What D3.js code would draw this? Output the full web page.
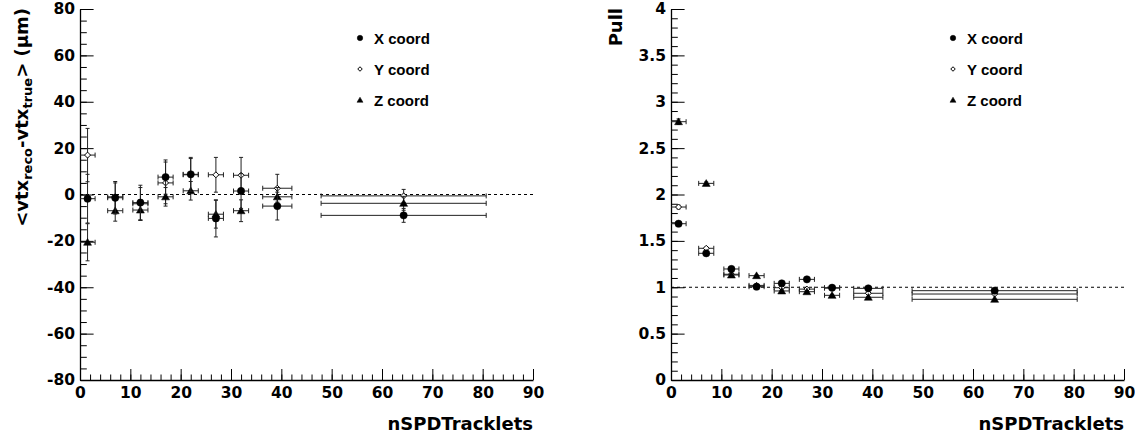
<!DOCTYPE html>
<html>
<head>
<meta charset="utf-8">
<script src="https://cdn.jsdelivr.net/npm/d3@7"></script>
<style>
body { margin: 0; background: #fff; }
</style>
</head>
<body>
<svg id="canvas" width="1135" height="434"></svg>
<script>
"use strict";

// bins in nSPDTracklets
var binCenters = [1.5, 7, 12, 17, 22, 27, 32, 39.2, 64.3];
var binHalfWidths = [1.5, 1.5, 1.5, 1.5, 1.5, 1.5, 1.5, 2.9, 16.4];

// left pad: <vtx_reco - vtx_true> in um
var biasX = [-1.8, -1.4, -3.5, 7.5, 8.7, -10.3, 1.5, -5, -9];
var biasXErr = [10.5, 7, 7.5, 7.4, 7.3, 8, 7.5, 6, 3];
var biasY = [17, -1, -4, 5, 8.5, 8.5, 8.3, 2.7, -0.6];
var biasYErr = [11.5, 6, 7, 9, 7, 7.5, 7.7, 6, 2.8];
var biasZ = [-20.6, -7, -6.7, -1, 1.6, -8.5, -7, -1, -3.8];
var biasZErr = [8, 4.5, 4.5, 4, 4, 6, 4.7, 4, 3];

// right pad: pull
var pullX = [1.685, 1.366, 1.197, 1.006, 1.042, 1.085, 0.995, 0.988, 0.963];
var pullXErr = [0.02, 0.012, 0.01, 0.008, 0.008, 0.008, 0.006, 0.006, 0.005];
var pullY = [1.865, 1.42, 1.14, 1.02, 0.995, 0.98, 0.99, 0.935, 0.927];
var pullYErr = [0.02, 0.012, 0.01, 0.008, 0.008, 0.008, 0.006, 0.006, 0.005];
var pullZ = [2.785, 2.12, 1.132, 1.125, 0.96, 0.952, 0.913, 0.892, 0.87];
var pullZErr = [0.03, 0.015, 0.01, 0.008, 0.008, 0.008, 0.006, 0.006, 0.005];

var legendLabels = ["X coord", "Y coord", "Z coord"];
var markerKinds = ["circle", "diamond", "triangle"];

var svg = d3.select("#canvas");
var labelFont = "'DejaVu Sans', sans-serif";
var legendFont = "'Liberation Sans', Arial, sans-serif";

function markerPath(kind, big) {
    var s = big ? 1 : 0.75;
    if (kind == "circle") return d3.symbol().type(d3.symbolCircle).size(42 * s * s)();
    if (kind == "diamond") {
        var r = 3 * s;
        return "M0," + (-r) + "L" + r + ",0L0," + r + "L" + (-r) + ",0Z";
    }
    var h = 3.8 * s;
    return "M0," + (-h) + "L" + (h * 1.05) + "," + (h * 0.8) + "L" + (-h * 1.05) + "," + (h * 0.8) + "Z";
}

function drawPanel(opts) {
    var g = svg.append("g");
    var x = d3.scaleLinear().domain([0, 90]).range([opts.left, opts.left + 453]);
    var y = d3.scaleLinear().domain(opts.yDomain).range([380, 9]);

    // minor ticks
    g.append("g").attr("transform", "translate(0,380)")
        .call(d3.axisBottom(x).tickValues(d3.range(0, 91, 2)).tickSize(-5.5).tickFormat(""))
        .call(function(a) { a.select(".domain").remove(); });
    g.append("g").attr("transform", "translate(" + opts.left + ",0)")
        .call(d3.axisLeft(y).tickValues(opts.yMinor).tickSize(-6.8).tickFormat(""))
        .call(function(a) { a.select(".domain").remove(); });

    // major axes
    var xAxis = g.append("g").attr("transform", "translate(0,380)")
        .call(d3.axisBottom(x).tickValues(d3.range(0, 91, 10)).tickSize(-11).tickSizeOuter(0).tickPadding(7));
    var yAxis = g.append("g").attr("transform", "translate(" + opts.left + ",0)")
        .call(d3.axisLeft(y).tickValues(opts.yMajor).tickSize(-13.6).tickSizeOuter(0).tickPadding(5)
            .tickFormat(opts.yFormat));
    [xAxis, yAxis].forEach(function(a) {
        a.selectAll("text").attr("font-family", labelFont).attr("font-weight", "bold")
            .attr("font-size", "15.5px").attr("fill", "#000");
        a.selectAll("line, path").attr("stroke", "#000");
        a.select(".domain").attr("stroke-width", 1.3);
    });

    // reference line
    g.append("line")
        .attr("x1", x(0)).attr("x2", x(90))
        .attr("y1", y(opts.refValue)).attr("y2", y(opts.refValue))
        .attr("stroke", "#000").attr("stroke-dasharray", "3,3");

    // axis titles
    g.append("text")
        .attr("x", x(90)).attr("y", 430)
        .attr("text-anchor", "end")
        .attr("font-family", labelFont).attr("font-weight", "bold").attr("font-size", "18px")
        .text("nSPDTracklets");
    opts.yTitle(g.append("text")
        .attr("transform", "translate(" + opts.titleX + ",8) rotate(-90)")
        .attr("text-anchor", "end")
        .attr("font-family", labelFont).attr("font-weight", "bold").attr("font-size", "18px"));

    // data: draw Y, Z, then X on top
    [1, 2, 0].forEach(function(si) {
        var vals = opts.series[si], errs = opts.errors[si];
        var pts = binCenters.map(function(c, i) {
            return { x: c, hw: binHalfWidths[i], v: vals[i], e: errs[i] };
        });
        var sg = g.append("g").attr("stroke", "#222").attr("stroke-width", 1);
        pts.forEach(function(d) {
            var px = x(d.x), py = y(d.v);
            var xl = Math.max(x(d.x - d.hw), x(0)), xr = x(d.x + d.hw);
            sg.append("line").attr("x1", xl).attr("x2", xr).attr("y1", py).attr("y2", py);
            sg.append("line").attr("x1", xr).attr("x2", xr).attr("y1", py - 2.5).attr("y2", py + 2.5);
            if (x(d.x - d.hw) > x(0)) {
                sg.append("line").attr("x1", xl).attr("x2", xl).attr("y1", py - 2.5).attr("y2", py + 2.5);
            }
            var yt = y(d.v + d.e), yb = y(d.v - d.e);
            if (yb - yt > 1) {
                sg.append("line").attr("x1", px).attr("x2", px).attr("y1", yt).attr("y2", yb);
                sg.append("line").attr("x1", px - 2).attr("x2", px + 2).attr("y1", yt).attr("y2", yt);
                sg.append("line").attr("x1", px - 2).attr("x2", px + 2).attr("y1", yb).attr("y2", yb);
            }
        });
        g.append("g").selectAll("path").data(pts).join("path")
            .attr("transform", function(d) { return "translate(" + x(d.x) + "," + y(d.v) + ")"; })
            .attr("d", markerPath(markerKinds[si], true))
            .attr("fill", si == 1 ? "#fff" : "#000")
            .attr("stroke", "#000").attr("stroke-width", si == 1 ? 1 : 0.5);
    });

    // legend
    var lg = g.append("g");
    legendLabels.forEach(function(label, i) {
        var ly = 38 + i * 31;
        lg.append("path")
            .attr("transform", "translate(" + opts.legendX + "," + ly + ")")
            .attr("d", markerPath(markerKinds[i], false))
            .attr("fill", i == 1 ? "#fff" : "#000")
            .attr("stroke", "#000").attr("stroke-width", i == 1 ? 1 : 0.5);
        lg.append("text")
            .attr("x", opts.legendX + 14).attr("y", ly + 5.5)
            .attr("font-family", legendFont).attr("font-weight", "bold").attr("font-size", "15px")
            .text(label);
    });
}

drawPanel({
    left: 80,
    yDomain: [-80, 80],
    yMajor: d3.range(-80, 81, 20),
    yMinor: d3.range(-80, 81, 5),
    yFormat: function(v) { return String(v); },
    refValue: 0,
    titleX: 28,
    yTitle: function(t) {
        t.append("tspan").text("<vtx");
        t.append("tspan").attr("font-size", "13px").attr("dy", 4).text("reco");
        t.append("tspan").attr("dy", -4).text("-vtx");
        t.append("tspan").attr("font-size", "13px").attr("dy", 4).text("true");
        t.append("tspan").attr("dy", -4).text("> (μm)");
    },
    series: [biasX, biasY, biasZ],
    errors: [biasXErr, biasYErr, biasZErr],
    legendX: 360
});

drawPanel({
    left: 671,
    yDomain: [0, 4],
    yMajor: d3.range(0, 4.01, 0.5),
    yMinor: d3.range(0, 4.01, 0.1),
    yFormat: function(v) { return String(+v.toFixed(1)); },
    refValue: 1,
    titleX: 622,
    yTitle: function(t) { t.text("Pull"); },
    series: [pullX, pullY, pullZ],
    errors: [pullXErr, pullYErr, pullZErr],
    legendX: 953
});
</script>
</body>
</html>
